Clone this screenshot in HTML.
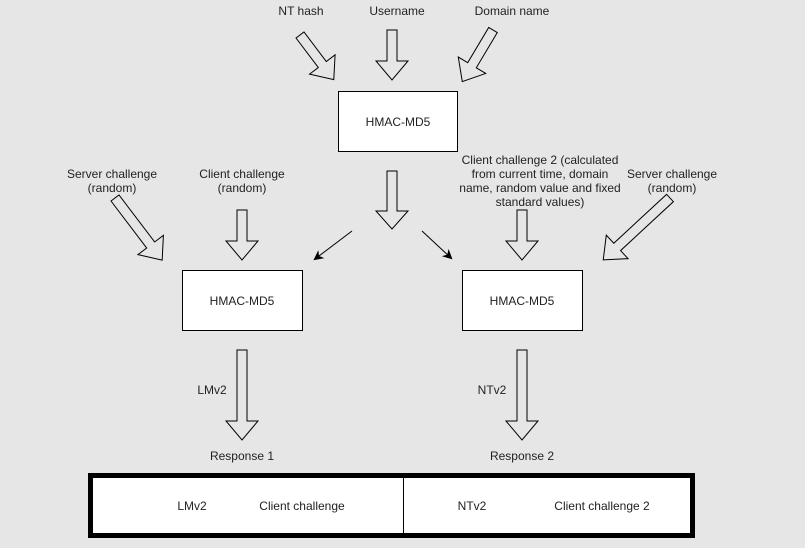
<!DOCTYPE html>
<html><head><meta charset="utf-8"><style>
html,body{margin:0;padding:0;background:#e6e6e6;}
svg{display:block;font-family:"Liberation Sans",Arial,sans-serif;font-size:12px;}
</style></head><body>
<svg width="805" height="548" viewBox="0 0 805 548" xmlns="http://www.w3.org/2000/svg">
<defs>
<marker id="ah" markerWidth="10" markerHeight="10" refX="8" refY="5" orient="auto" markerUnits="userSpaceOnUse">
<path d="M0,0 L10,5 L0,10 L3,5 Z" fill="#000"/>
</marker>
</defs>
<rect width="805" height="548" fill="#e6e6e6"/>
<g fill="none" stroke="#000" stroke-width="1">
<!-- vertical block arrows -->
<polygon points="387,30 397,30 397,61 408,61 392,80 376,61 387,61"/>
<polygon points="387,171 397,171 397,211 408,211 392,229 376,211 387,211"/>
<polygon points="237,210 247,210 247,241 258,241 242,260 226,241 237,241"/>
<polygon points="517,210 527,210 527,241 538,241 522,260 506,241 517,241"/>
<polygon points="237,350 247,350 247,421 258,421 242,440 226,421 237,421"/>
<polygon points="517,350 527,350 527,421 538,421 522,440 506,421 517,421"/>
<!-- diagonal block arrows: local pointing down -->
<g transform="translate(300,35) rotate(-37.1)"><polygon points="-5,0 5,0 5,37 16,37 0,56 -16,37 -5,37"/></g>
<g transform="translate(493,30) rotate(30.8)"><polygon points="-5,0 5,0 5,41 16,41 0,60 -16,41 -5,41"/></g>
<g transform="translate(115,198) rotate(-37.2)"><polygon points="-5,0 5,0 5,59 16,59 0,78 -16,59 -5,59"/></g>
<g transform="translate(670,198) rotate(47.2)"><polygon points="-5,0 5,0 5,72 16,72 0,91 -16,72 -5,72"/></g>
</g>
<line x1="352" y1="231" x2="315" y2="259" stroke="#000" marker-end="url(#ah)"/>
<line x1="422" y1="231" x2="451" y2="258" stroke="#000" marker-end="url(#ah)"/>
<!-- boxes -->
<rect x="338.5" y="91.5" width="119" height="60" fill="#fff" stroke="#000"/>
<rect x="182.5" y="270.5" width="120" height="60" fill="#fff" stroke="#000"/>
<rect x="462.5" y="270.5" width="120" height="60" fill="#fff" stroke="#000"/>
<rect x="90.5" y="475.5" width="602" height="60" fill="#fff" stroke="#000" stroke-width="5"/>
<line x1="403.5" y1="476" x2="403.5" y2="535" stroke="#000"/>
<g fill="#222" text-anchor="middle">
<text x="301" y="15">NT hash</text>
<text x="397" y="15">Username</text>
<text x="512" y="15">Domain name</text>
<text x="398" y="126">HMAC-MD5</text>
<text x="242" y="305">HMAC-MD5</text>
<text x="522" y="305">HMAC-MD5</text>
<text x="112" y="178">Server challenge</text>
<text x="112" y="192">(random)</text>
<text x="242" y="178">Client challenge</text>
<text x="242" y="192">(random)</text>
<text x="540" y="164">Client challenge 2 (calculated</text>
<text x="540" y="178">from current time, domain</text>
<text x="540" y="192">name, random value and fixed</text>
<text x="540" y="206">standard values)</text>
<text x="672" y="178">Server challenge</text>
<text x="672" y="192">(random)</text>
<text x="212" y="394">LMv2</text>
<text x="492" y="394">NTv2</text>
<text x="242" y="460">Response 1</text>
<text x="522" y="460">Response 2</text>
<text x="192" y="510">LMv2</text>
<text x="302" y="510">Client challenge</text>
<text x="472" y="510">NTv2</text>
<text x="602" y="510">Client challenge 2</text>
</g>
</svg>
</body></html>
